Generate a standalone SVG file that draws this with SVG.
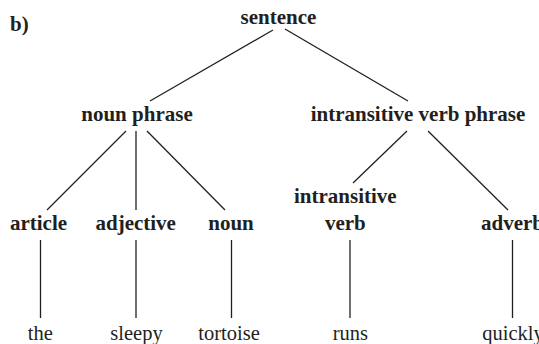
<svg xmlns="http://www.w3.org/2000/svg" width="539" height="344" viewBox="0 0 539 344">
<style>
text{font-family:'Liberation Serif',serif;fill:#231f20;text-anchor:middle}
.b{font-weight:bold;font-size:21px}
.r{font-weight:normal;font-size:20.5px}
.c line{stroke:#231f20;stroke-width:1.3}
</style>
<rect width="539" height="344" fill="#fff"/>
<g id="label"><text class="b" x="10" y="31" style="text-anchor:start">b)</text></g>
<g class="c" id="connectors">
<line x1="273" y1="30" x2="150" y2="101"/>
<line x1="285" y1="29" x2="408" y2="101"/>
<line x1="126" y1="131" x2="47" y2="210"/>
<line x1="136" y1="131" x2="136" y2="210"/>
<line x1="147" y1="131" x2="225" y2="210"/>
<line x1="407" y1="131" x2="353" y2="183"/>
<line x1="428" y1="131" x2="508" y2="210"/>
<line x1="40.5" y1="240" x2="40.5" y2="318"/>
<line x1="136" y1="240" x2="136" y2="318"/>
<line x1="231.5" y1="240" x2="231.5" y2="318"/>
<line x1="350" y1="240" x2="350" y2="318"/>
<line x1="512.5" y1="240" x2="512.5" y2="318"/>
</g>
<g id="sentence"><text class="b" x="278.5" y="24">sentence</text></g>
<g id="noun-phrase"><text class="b" x="137" y="121">noun phrase</text></g>
<g id="ivp"><text class="b" x="418" y="121">intransitive verb phrase</text></g>
<g id="article"><text class="b" x="38.5" y="230">article</text></g>
<g id="adjective"><text class="b" x="135.7" y="230">adjective</text></g>
<g id="noun"><text class="b" x="231" y="230">noun</text></g>
<g id="iverb"><text class="b" x="345.3" y="203">intransitive</text><text class="b" x="345.3" y="230">verb</text></g>
<g id="adverb"><text class="b" x="512.5" y="230">adverb</text></g>
<g id="the"><text class="r" x="40.3" y="340">the</text></g>
<g id="sleepy"><text class="r" x="136.5" y="340">sleepy</text></g>
<g id="tortoise"><text class="r" x="229" y="340">tortoise</text></g>
<g id="runs"><text class="r" x="350.3" y="340">runs</text></g>
<g id="quickly"><text class="r" x="513" y="340">quickly</text></g>
</svg>
